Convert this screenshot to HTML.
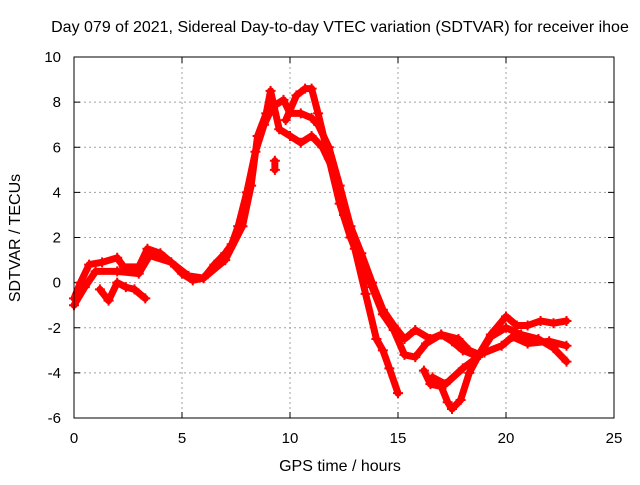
<!DOCTYPE html>
<html><head><meta charset="utf-8"><style>
body{margin:0;background:#fff}
svg text{font-family:"Liberation Sans",sans-serif;font-size:15px;fill:#000}
svg text.big{font-size:16px}
</style></head><body>
<svg id="chart" width="640" height="480" xmlns="http://www.w3.org/2000/svg">
<text class="big" x="340" y="32" text-anchor="middle">Day 079 of 2021, Sidereal Day-to-day VTEC variation (SDTVAR) for receiver ihoe</text>
<text class="big" x="340" y="471" text-anchor="middle">GPS time / hours</text>
<text class="big" transform="translate(20,238) rotate(-90)" text-anchor="middle">SDTVAR / TECUs</text>
<g id="grid"></g><g id="series"></g>
<rect x="74" y="57" width="540" height="361" fill="none" stroke="#000" stroke-width="1"/>
</svg>
<script>
const xTicks=[0,5,10,15,20,25];
const yTicks=[-6,-4,-2,0,2,4,6,8,10];
const trackA_x=[0,0.3,0.7,1.3,2,2.3,3,3.4,4,4.5,5,5.5,6,6.5,7,7.3,7.6,8,8.4,8.8,9.2,9.7,10,10.5,11,11.3,11.8,12.3,12.8,13.3,13.8,14.3,14.8,15.3,15.8,16.5,17,17.5,18,18.5,19,19.8,20.3,21,22,22.8];
const trackA_y=[-0.7,0,0.8,0.9,1.1,0.7,0.7,1.5,1.3,0.9,0.4,0.1,0.2,0.8,1.3,1.7,2.5,4,5.8,7,7.8,8.1,7.5,7.5,7.3,7,6,4.3,2.5,1.3,0,-1.2,-1.9,-2.5,-2.1,-2.5,-2.3,-2.6,-3,-3.2,-3.1,-2.8,-2.4,-2.7,-2.6,-2.8];
const trackB_x=[0,0.5,1,2,3,3.5,4.5,5.3,6,7,7.8,8.2,8.5,8.9,9.1,9.5,10,10.5,11,11.5,12,12.5,13,13.5,14,14.3,14.6,15];
const trackB_y=[-1,-0.2,0.5,0.5,0.4,1.2,0.9,0.3,0.2,1,2.5,4.3,6.5,7.5,8.5,6.8,6.5,6.2,6.5,6,5,3,1.5,-0.5,-2.5,-3,-3.8,-4.9];
const trackC_x=[1.2,1.6,2,2.4,2.8,3.3];
const trackC_y=[-0.3,-0.8,0,-0.2,-0.3,-0.7];
const trackD_x=[9.8,10.3,10.7,11,11.3,11.8,12.3,12.8,13.3,13.8,14.3,14.8,15.3,15.8,16.3,17,17.8,18.3,18.8];
const trackD_y=[7.2,8.3,8.6,8.6,7.5,5.5,3.5,2,0.8,-0.2,-1.4,-2.1,-3.2,-3.3,-2.7,-2.3,-2.5,-3,-3.2];
const trackE_x=[16.2,16.5,17,17.3,17.5,17.9,18.3,18.8,19.3,20,20.5,21,21.6,22.2,22.8];
const trackE_y=[-3.9,-4.5,-4.6,-5.3,-5.6,-5.2,-4,-3.1,-2.3,-1.5,-1.9,-1.9,-1.7,-1.8,-1.7];
const trackF_x=[16.6,17.2,18,18.7,19.3,20,20.7,21.5,22.2,22.8];
const trackF_y=[-4.2,-4.5,-3.8,-3.3,-2.4,-2,-2.3,-2.5,-2.9,-3.5];
const trackG_x=[9.3,9.3];
const trackG_y=[5,5.4];
const tracks=[[trackA_x,trackA_y],[trackB_x,trackB_y],[trackC_x,trackC_y],[trackD_x,trackD_y],[trackE_x,trackE_y],[trackF_x,trackF_y],[trackG_x,trackG_y]];
const NS='http://www.w3.org/2000/svg';
const X=v=>74+v*21.6, Y=v=>418-(v+6)*22.5625;
const grid=document.getElementById('grid'), ser=document.getElementById('series');
function mk(t,a,p){const e=document.createElementNS(NS,t);for(const k in a)e.setAttribute(k,a[k]);p.appendChild(e);return e;}
xTicks.forEach(v=>{
  if(v>0&&v<25){const l=mk('line',{x1:X(v),x2:X(v),y1:57,y2:418,stroke:'#a0a0a0','stroke-dasharray':'2,3'},grid);
  
  }
  mk('line',{x1:X(v),x2:X(v),y1:418,y2:412,stroke:'#000'},grid);
  mk('line',{x1:X(v),x2:X(v),y1:57,y2:63,stroke:'#000'},grid);
  const t=mk('text',{x:X(v),y:443,'text-anchor':'middle'},grid);t.textContent=v;
  
  
});
yTicks.forEach(v=>{
  if(v>-6&&v<10){const l=mk('line',{x1:74,x2:614,y1:Y(v),y2:Y(v),stroke:'#a0a0a0','stroke-dasharray':'2,3'},grid);
  
  }
  mk('line',{x1:74,x2:80,y1:Y(v),y2:Y(v),stroke:'#000'},grid);
  mk('line',{x1:608,x2:614,y1:Y(v),y2:Y(v),stroke:'#000'},grid);
  const t=mk('text',{x:61,y:Y(v)+5,'text-anchor':'end'},grid);t.textContent=v;
  
  
});
tracks.forEach(([xs,ys])=>{
  const pts=xs.map((x,i)=>X(x)+','+Y(ys[i])).join(' ');
  const pl=mk('polyline',{points:pts,fill:'none',stroke:'#ff0000','stroke-width':7,'stroke-linejoin':'round','stroke-linecap':'round'},ser);
  
  
  xs.forEach((x,i)=>{
    const p=mk('path',{d:`M${X(x)-5},${Y(ys[i])}h10M${X(x)},${Y(ys[i])-5}v10`,stroke:'#ff0000','stroke-width':2},ser);
    
    
  });
});
</script>
</body></html>
